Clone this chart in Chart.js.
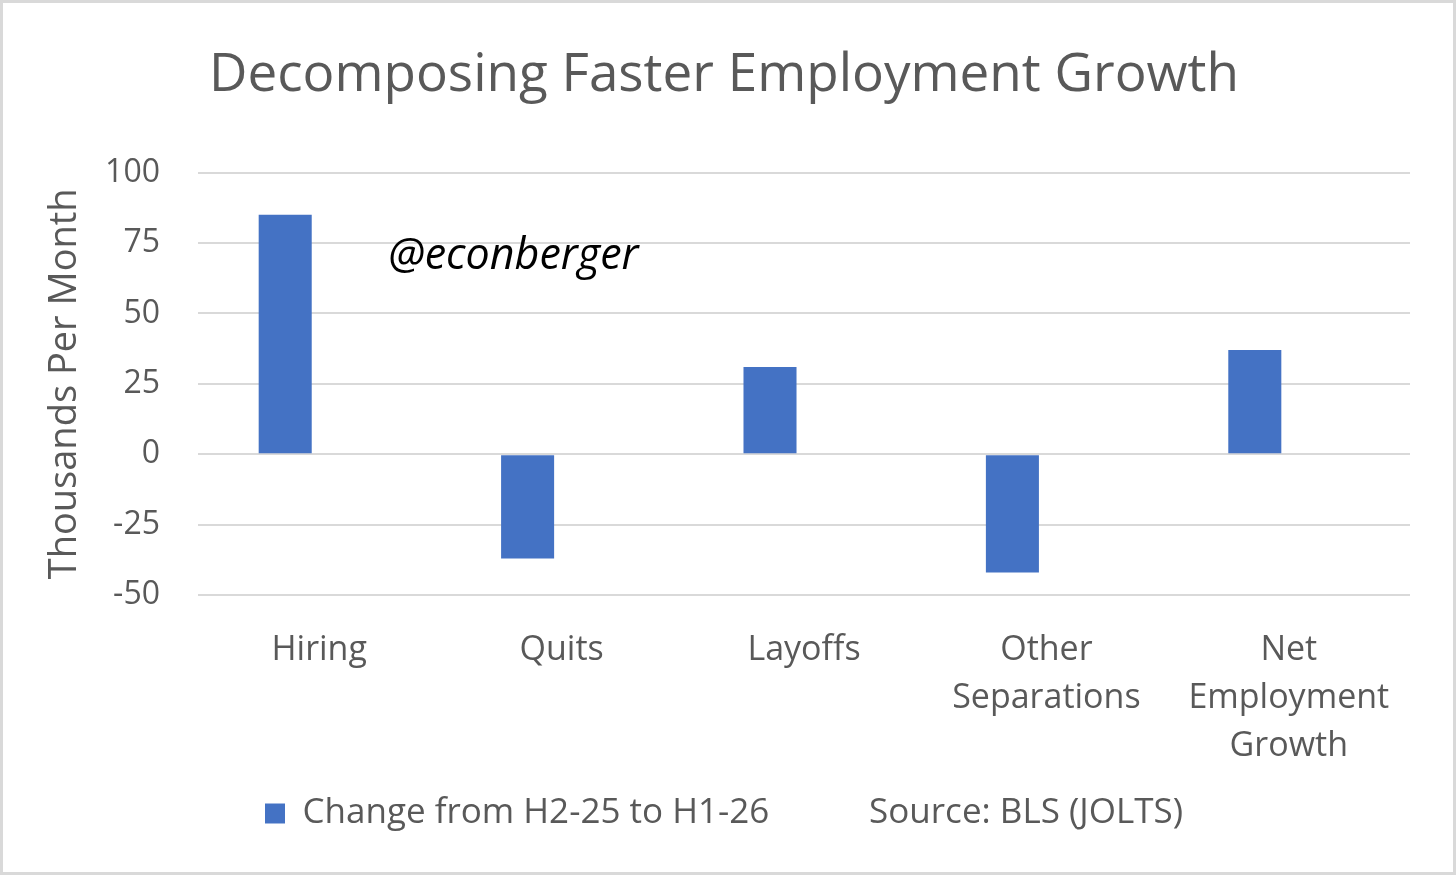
<!DOCTYPE html>
<html>
<head>
<meta charset="utf-8">
<title>Decomposing Faster Employment Growth</title>
<script src="https://cdn.jsdelivr.net/npm/chart.js@4.4.1/dist/chart.umd.min.js"></script>
<style>
  html, body { margin: 0; padding: 0; background: #fff; }
  #frame {
    position: absolute; left: 0; top: 0;
    width: 1450px; height: 869px;
    border: 3px solid #d9d9d9;
  }
  canvas { display: block; }
</style>
</head>
<body>
<div id="frame"><canvas id="chart" width="1450" height="869"></canvas></div>
<script>
// data
const categories = ['Hiring', 'Quits', 'Layoffs', ['Other', 'Separations'], ['Net', 'Employment', 'Growth']];
const changeValues = [85, -37, 31, -42, 37];
const sourceValues = [null, null, null, null, null];   // empty series that only carries the source note
const yTicks = [100, 75, 50, 25, 0, -25, -50];
const seriesName = 'Change from H2-25 to H1-26';
const sourceNote = 'Source: BLS (JOLTS)';

const FONT = "'Open Sans', 'Noto Sans', sans-serif";
const TEXT = '#595959';
const BAR = '#4472C4';

// watermark drawn inside the plot
const watermark = {
  id: 'watermark',
  afterDatasetsDraw(chart) {
    const { ctx, scales: { x, y } } = chart;
    const x0 = x.getPixelForValue(0);
    const x1 = x.getPixelForValue(1);
    ctx.save();
    ctx.font = "italic 43px " + FONT;
    ctx.fillStyle = '#000';
    ctx.textBaseline = 'middle';
    ctx.textAlign = 'left';
    ctx.fillText('@econberger', x0 + (x1 - x0) * 0.285, y.getPixelForValue(70));
    ctx.restore();
  }
};

new Chart(document.getElementById('chart'), {
  type: 'bar',
  data: {
    labels: categories,
    datasets: [{
      label: seriesName,
      data: changeValues,
      backgroundColor: BAR,
      borderWidth: 0,
      categoryPercentage: 0.561,
      barPercentage: 0.78
    }, {
      label: sourceNote,
      data: sourceValues,
      backgroundColor: 'rgba(0,0,0,0)',
      borderColor: 'rgba(0,0,0,0)',
      borderWidth: 0,
      categoryPercentage: 0.561,
      barPercentage: 0.78
    }]
  },
  options: {
    responsive: false,
    animation: false,
    layout: { padding: { left: 35, right: 43, top: 0, bottom: 31 } },
    plugins: {
      tooltip: { enabled: false },
      title: {
        display: true,
        text: 'Decomposing Faster Employment Growth',
        color: TEXT,
        font: { family: FONT, size: 53, weight: 'normal', lineHeight: 1.2 },
        padding: { top: 41, bottom: 65 }
      },
      legend: {
        position: 'bottom',
        labels: {
          color: TEXT,
          font: { family: FONT, size: 35 },
          boxWidth: 20,
          boxHeight: 20,
          padding: 26,
          generateLabels(chart) {
            const items = Chart.defaults.plugins.legend.labels.generateLabels(chart);
            // wider gap before the source note, as in the original
            items[1].text = '    ' + items[1].text;
            return items;
          }
        }
      }
    },
    scales: {
      x: {
        grid: { display: false, drawTicks: false },
        border: { display: false },
        ticks: {
          color: TEXT,
          font: { family: FONT, size: 34, lineHeight: 48 / 34 },
          padding: 31,
          maxRotation: 0,
          autoSkip: false
        },
        afterFit(scale) { scale.height = 175; }
      },
      y: {
        min: -50,
        max: 100,
        afterBuildTicks(scale) { scale.ticks = yTicks.map(v => ({ value: v })); },
        grid: { color: '#d9d9d9', lineWidth: 2, drawTicks: false },
        border: { display: false },
        ticks: {
          color: TEXT,
          font: { family: FONT, size: 32 },
          padding: 38
        },
        title: {
          display: true,
          text: 'Thousands Per Month',
          color: TEXT,
          font: { family: FONT, size: 38 },
          padding: { top: 4, bottom: 4 }
        },
        afterFit(scale) { scale.width = 160; }
      }
    }
  },
  plugins: [watermark]
});
</script>
</body>
</html>
